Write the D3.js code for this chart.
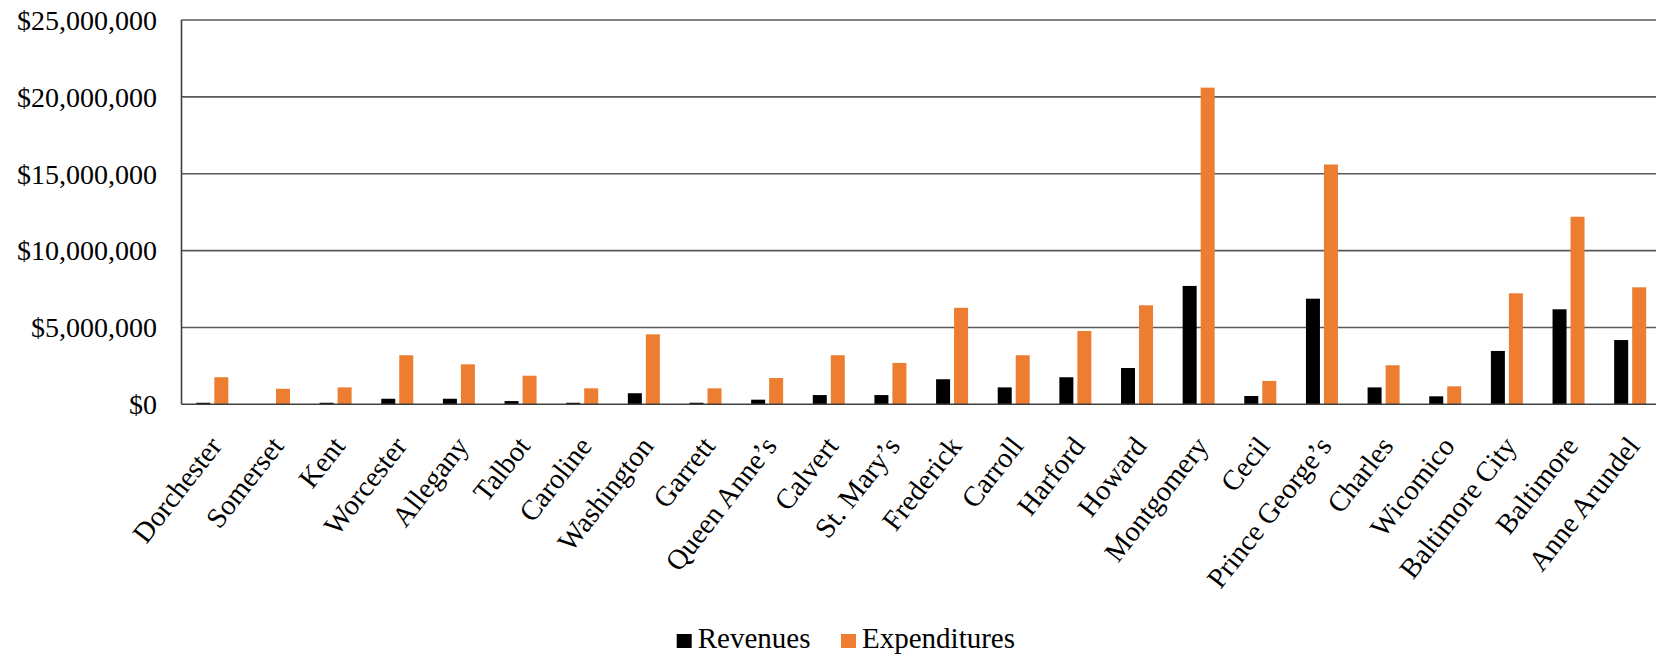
<!DOCTYPE html>
<html>
<head>
<meta charset="utf-8">
<script src="https://cdn.jsdelivr.net/npm/d3@7"></script>
<style>
	body { margin: 0; background: #fff; }
	text { font-family: "Liberation Serif", "Times New Roman", serif; fill: #000; }
</style>
</head>
<body>
<div id="chart"></div>
<script>
const counties = ["Dorchester", "Somerset", "Kent", "Worcester", "Allegany", "Talbot", "Caroline", "Washington",
	"Garrett", "Queen Anne’s", "Calvert", "St. Mary’s", "Frederick", "Carroll", "Harford", "Howard", "Montgomery",
	"Cecil", "Prince George’s", "Charles", "Wicomico", "Baltimore City", "Baltimore", "Anne Arundel"];
const revenues = [100000, 0, 100000, 360000, 360000, 210000, 100000, 720000, 100000, 300000, 600000, 600000,
	1630000, 1100000, 1760000, 2360000, 7700000, 540000, 6870000, 1100000, 520000, 3470000, 6180000, 4180000];
const expenditures = [1760000, 1010000, 1100000, 3190000, 2600000, 1860000, 1040000, 4550000, 1040000, 1710000,
	3190000, 2690000, 6280000, 3190000, 4770000, 6440000, 20600000, 1520000, 15600000, 2540000, 1170000, 7220000,
	12200000, 7610000];
const seriesNames = ["Revenues", "Expenditures"];
const seriesColors = ["#000000", "#ED7D31"];
const yTicks = [0, 5000000, 10000000, 15000000, 20000000, 25000000];

const W = 1656, H = 657;
const plot = {left: 181.5, right: 1661, top: 20, bottom: 404.3};

const svg = d3.select("#chart")
	.append("svg")
		.attr("width", W)
		.attr("height", H);

// scales
const x = d3.scaleBand()
	.domain(counties)
	.range([plot.left, plot.right]);
const x1 = d3.scaleBand()
	.domain(seriesNames)
	.range([x.bandwidth() / 2 - 16, x.bandwidth() / 2 + 16])
	.paddingInner(4 / 18);
const y = d3.scaleLinear()
	.domain([0, 25000000])
	.range([plot.bottom, plot.top]);
const fmt = d3.format("$,.0f");

// gridlines
svg.append("g")
	.selectAll("line")
	.data(yTicks.filter(d => d > 0))
	.join("line")
		.attr("x1", plot.left)
		.attr("x2", W)
		.attr("y1", d => y(d))
		.attr("y2", d => y(d))
		.attr("stroke", "#5a5a5a")
		.attr("stroke-width", 1.6);

// y labels
svg.append("g")
	.selectAll("text")
	.data(yTicks)
	.join("text")
		.attr("x", 157)
		.attr("y", d => y(d))
		.attr("dy", "0.35em")
		.attr("text-anchor", "end")
		.attr("font-size", "28px")
		.text(d => fmt(d));

// bars
const rows = counties.map((c, i) => ({county: c, values: [revenues[i], expenditures[i]]}));
svg.append("g")
	.selectAll("g")
	.data(rows)
	.join("g")
		.attr("transform", d => `translate(${x(d.county)},0)`)
	.selectAll("rect")
	.data(d => d.values.map((v, k) => ({name: seriesNames[k], value: v, color: seriesColors[k]})))
	.join("rect")
		.attr("x", d => x1(d.name))
		.attr("y", d => y(d.value))
		.attr("width", x1.bandwidth())
		.attr("height", d => y(0) - y(d.value))
		.attr("fill", d => d.color);

// axis lines
svg.append("line")
	.attr("x1", plot.left).attr("x2", plot.left)
	.attr("y1", plot.top).attr("y2", plot.bottom)
	.attr("stroke", "#404040").attr("stroke-width", 1.6);
svg.append("line")
	.attr("x1", plot.left).attr("x2", W)
	.attr("y1", plot.bottom).attr("y2", plot.bottom)
	.attr("stroke", "#404040").attr("stroke-width", 1.6);

// x labels (a bit steeper than 45deg)
svg.append("g")
	.selectAll("text")
	.data(counties)
	.join("text")
		.attr("transform", d => `translate(${x(d) + x.bandwidth() / 2 + 3},${plot.bottom + 36}) rotate(-52)`)
		.attr("text-anchor", "end")
		.attr("dy", "0.35em")
		.attr("font-size", "28.5px")
		.text(d => d);

// legend
const legendX = [676.7, 841];
const legend = svg.append("g")
	.selectAll("g")
	.data(seriesNames)
	.join("g")
		.attr("transform", (d, i) => `translate(${legendX[i]},634)`);
legend.append("rect")
	.attr("width", 15)
	.attr("height", 14)
	.attr("fill", (d, i) => seriesColors[i]);
legend.append("text")
	.attr("x", 21)
	.attr("y", 14)
	.attr("font-size", "29px")
	.text(d => d);
</script>
</body>
</html>
